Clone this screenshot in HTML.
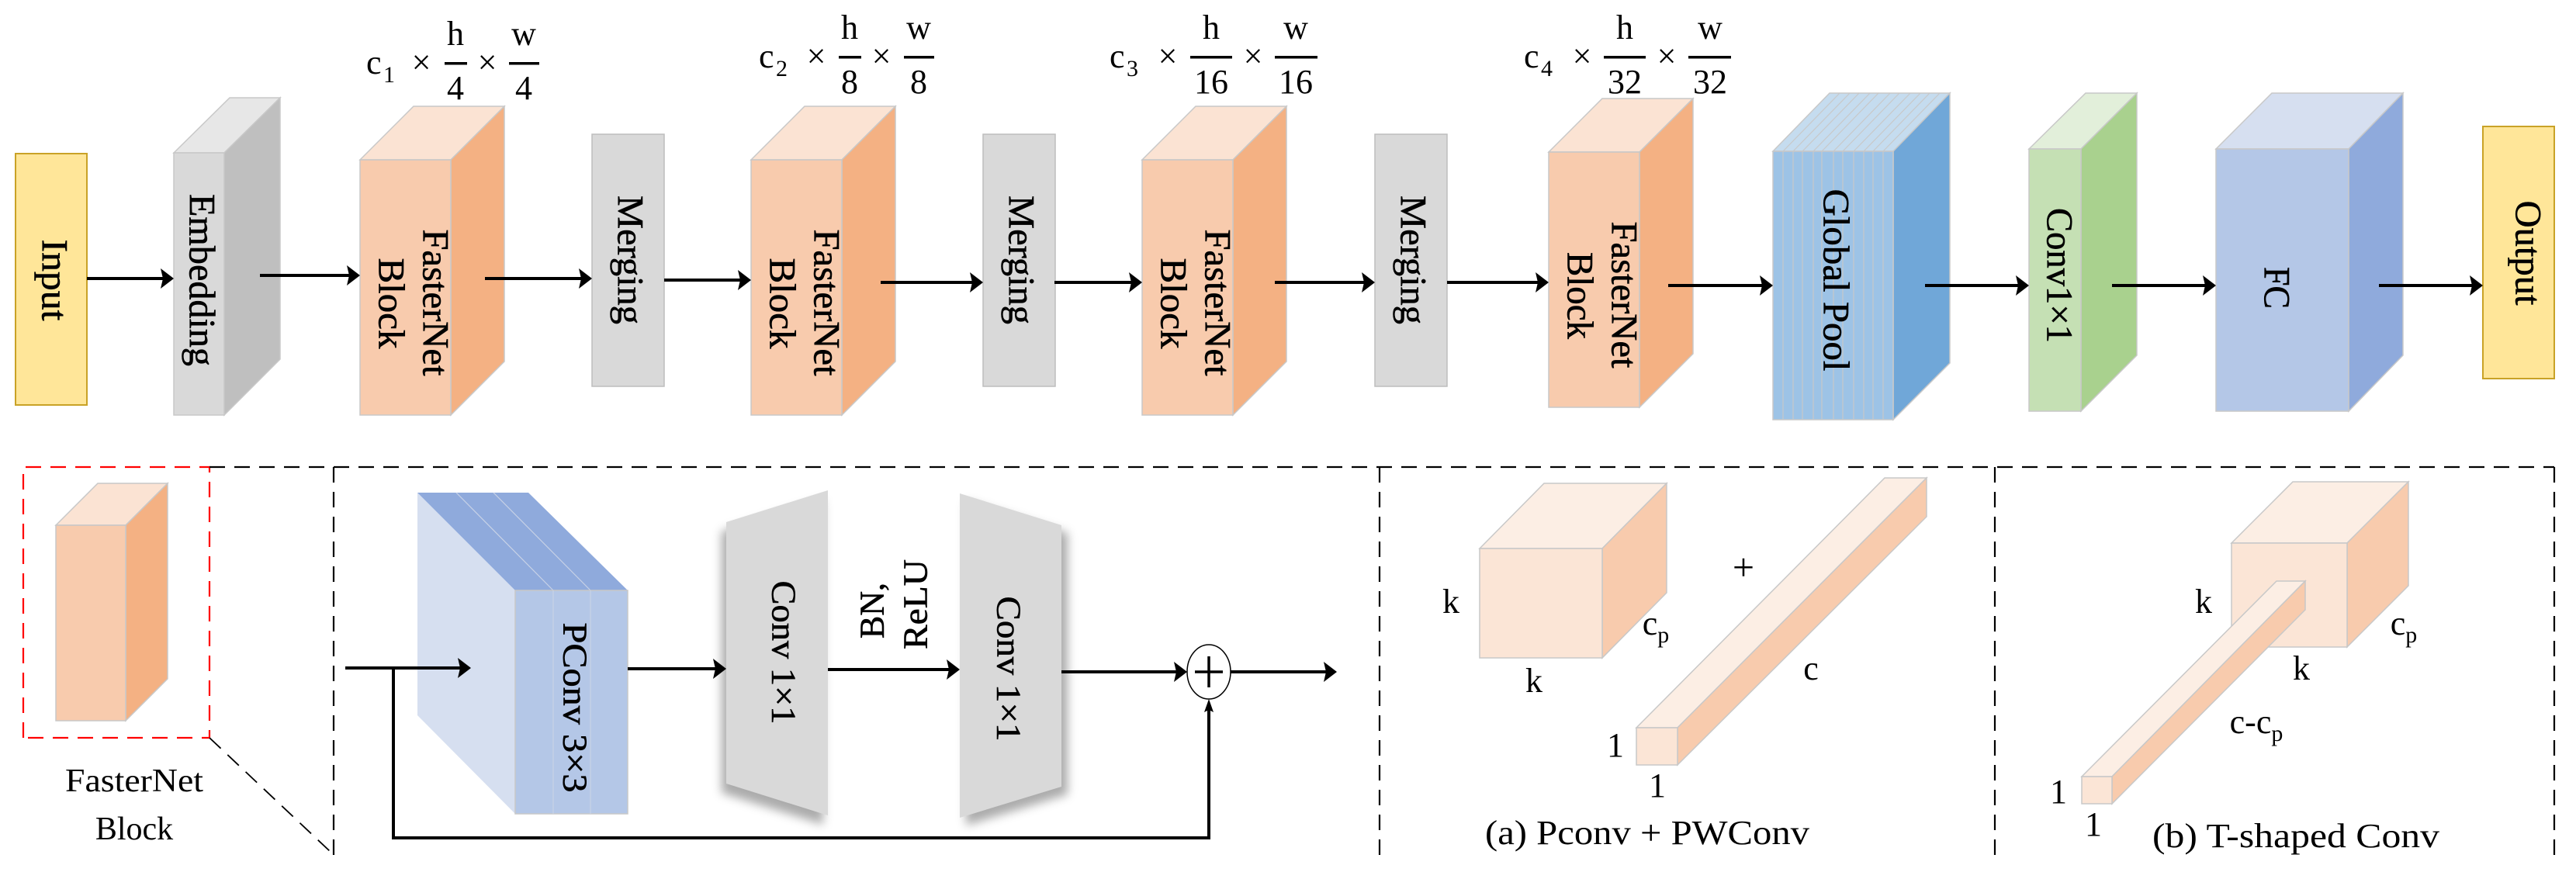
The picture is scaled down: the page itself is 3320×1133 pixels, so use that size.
<!DOCTYPE html>
<html><head><meta charset="utf-8"><style>
html,body{margin:0;padding:0;background:#fff;}
svg{display:block;}
svg text{font-family:"Liberation Serif","DejaVu Serif","Times New Roman",serif !important;fill:#000;}
</style></head><body>
<svg width="3320" height="1133" viewBox="0 0 3320 1133" xmlns="http://www.w3.org/2000/svg" font-family="Liberation Serif, DejaVu Serif, serif" style="font-family:'Liberation Serif','DejaVu Serif',serif">
<defs>
<filter id="sh" x="-30%" y="-10%" width="160%" height="130%"><feGaussianBlur stdDeviation="6"/></filter>
</defs>
<style>
.ar{stroke:#000;stroke-width:4;fill:none;}
.hd{fill:#000;}
.bx{stroke:#c8c8c8;stroke-width:1.5;}
.rt{font-size:48px;stroke:#000;stroke-width:0.6;}
.bt{stroke:#000;stroke-width:0.6;}
</style>

<rect x="20" y="198" width="92" height="324" fill="#FFE699" stroke="#C9A227" stroke-width="2"/>
<text class="rt" transform="translate(70,361) rotate(90)" text-anchor="middle" dominant-baseline="central" textLength="105" lengthAdjust="spacingAndGlyphs">Input</text>

<polygon class="bx" fill="#E7E7E7" points="224,197 296,126 361,126 289,197"/>
<polygon class="bx" fill="#BFBFBF" points="289,197 361,126 361,463 289,535"/>
<rect class="bx" fill="#D9D9D9" x="224" y="197" width="65" height="338"/>
<text class="rt" transform="translate(260,361) rotate(90)" text-anchor="middle" dominant-baseline="central" textLength="222" lengthAdjust="spacingAndGlyphs">Embedding</text>

<g id="fn1">
<polygon class="bx" fill="#FBE3D3" points="464,206 533,137 650,137 581,206"/>
<polygon class="bx" fill="#F4B183" points="581,206 650,137 650,466 581,535"/>
<rect class="bx" fill="#F8CBAD" x="464" y="206" width="117" height="329"/>
<text class="rt" transform="translate(561,390) rotate(90)" text-anchor="middle" dominant-baseline="central" textLength="189" lengthAdjust="spacingAndGlyphs">FasterNet</text>
<text class="rt" transform="translate(504,391) rotate(90)" text-anchor="middle" dominant-baseline="central" textLength="117" lengthAdjust="spacingAndGlyphs">Block</text>
</g>
<use href="#fn1" transform="translate(504,0)"/>
<use href="#fn1" transform="translate(1008,0)"/>
<g transform="translate(1532,-10)">
<polygon class="bx" fill="#FBE3D3" points="464,206 533,137 650,137 581,206"/>
<polygon class="bx" fill="#F4B183" points="581,206 650,137 650,466 581,535"/>
<rect class="bx" fill="#F8CBAD" x="464" y="206" width="117" height="329"/>
<text class="rt" transform="translate(561,390) rotate(90)" text-anchor="middle" dominant-baseline="central" textLength="189" lengthAdjust="spacingAndGlyphs">FasterNet</text>
<text class="rt" transform="translate(504,391) rotate(90)" text-anchor="middle" dominant-baseline="central" textLength="112" lengthAdjust="spacingAndGlyphs">Block</text>
</g>

<g id="mg">
<rect fill="#D9D9D9" stroke="#bdbdbd" stroke-width="1.5" x="763" y="173" width="93" height="325"/>
<text class="rt" transform="translate(812,335) rotate(90)" text-anchor="middle" dominant-baseline="central" textLength="166" lengthAdjust="spacingAndGlyphs">Merging</text>
</g>
<use href="#mg" transform="translate(504,0)"/>
<use href="#mg" transform="translate(1009,0)"/>

<polygon class="bx" fill="#C5DCEF" points="2285,195 2358,120 2513,120 2440,195"/>
<polygon class="bx" fill="#70A7D8" points="2440,195 2513,120 2513,468 2440,541"/>
<rect class="bx" fill="#9DC3E6" x="2285" y="195" width="155" height="346"/>
<g stroke="#c8c8c8" stroke-width="1.2">
<line x1="2298" y1="195" x2="2298" y2="541"/><line x1="2311" y1="195" x2="2311" y2="541"/><line x1="2323" y1="195" x2="2323" y2="541"/><line x1="2337" y1="195" x2="2337" y2="541"/><line x1="2348" y1="195" x2="2348" y2="541"/><line x1="2363" y1="195" x2="2363" y2="541"/><line x1="2375" y1="195" x2="2375" y2="541"/><line x1="2389" y1="195" x2="2389" y2="541"/><line x1="2402" y1="195" x2="2402" y2="541"/><line x1="2414" y1="195" x2="2414" y2="541"/><line x1="2427" y1="195" x2="2427" y2="541"/>
<line x1="2298" y1="195" x2="2371" y2="120"/><line x1="2311" y1="195" x2="2384" y2="120"/><line x1="2323" y1="195" x2="2396" y2="120"/><line x1="2337" y1="195" x2="2410" y2="120"/><line x1="2348" y1="195" x2="2421" y2="120"/><line x1="2363" y1="195" x2="2436" y2="120"/><line x1="2375" y1="195" x2="2448" y2="120"/><line x1="2389" y1="195" x2="2462" y2="120"/><line x1="2402" y1="195" x2="2475" y2="120"/><line x1="2414" y1="195" x2="2487" y2="120"/><line x1="2427" y1="195" x2="2500" y2="120"/>
</g>
<text class="rt" transform="translate(2366,361) rotate(90)" text-anchor="middle" dominant-baseline="central" textLength="235" lengthAdjust="spacingAndGlyphs">Global Pool</text>

<polygon class="bx" fill="#E2EFDA" points="2615,192 2688,120 2754,120 2682,192"/>
<polygon class="bx" fill="#A9D18E" points="2682,192 2754,120 2754,458 2682,530"/>
<rect class="bx" fill="#C5E0B4" x="2615" y="192" width="67" height="338"/>
<text class="rt" transform="translate(2654,355) rotate(90)" text-anchor="middle" dominant-baseline="central" textLength="174" lengthAdjust="spacingAndGlyphs">Conv1×1</text>

<polygon class="bx" fill="#D6DFF0" points="2856,192 2928,120 3097,120 3027,192"/>
<polygon class="bx" fill="#8FAADC" points="3027,192 3097,120 3097,458 3027,530"/>
<rect class="bx" fill="#B4C7E7" x="2856" y="192" width="171" height="338"/>
<text class="rt" transform="translate(2934,371) rotate(90)" text-anchor="middle" dominant-baseline="central" textLength="54" lengthAdjust="spacingAndGlyphs">FC</text>

<rect x="3200" y="163" width="92" height="325" fill="#FFE699" stroke="#C9A227" stroke-width="2"/>
<text class="rt" transform="translate(3258,326) rotate(90)" text-anchor="middle" dominant-baseline="central" textLength="135" lengthAdjust="spacingAndGlyphs">Output</text>

<g class="ar">
<line x1="112" y1="359" x2="212" y2="359"/>
<line x1="335" y1="355" x2="452" y2="355"/>
<line x1="625" y1="359" x2="751" y2="359"/>
<line x1="856" y1="361" x2="956" y2="361"/>
<line x1="1135" y1="364" x2="1255" y2="364"/>
<line x1="1359" y1="364" x2="1460" y2="364"/>
<line x1="1643" y1="364" x2="1760" y2="364"/>
<line x1="1865" y1="364" x2="1984" y2="364"/>
<line x1="2150" y1="368" x2="2273" y2="368"/>
<line x1="2481" y1="368" x2="2603" y2="368"/>
<line x1="2722" y1="368" x2="2844" y2="368"/>
<line x1="3066" y1="368" x2="3188" y2="368"/>
</g>
<g class="hd">
<polygon points="224,359 207,346 210,359 207,372"/>
<polygon points="464,355 447,342 450,355 447,368"/>
<polygon points="763,359 746,346 749,359 746,372"/>
<polygon points="968,361 951,348 954,361 951,374"/>
<polygon points="1267,364 1250,351 1253,364 1250,377"/>
<polygon points="1472,364 1455,351 1458,364 1455,377"/>
<polygon points="1772,364 1755,351 1758,364 1755,377"/>
<polygon points="1996,364 1979,351 1982,364 1979,377"/>
<polygon points="2285,368 2268,355 2271,368 2268,381"/>
<polygon points="2615,368 2598,355 2601,368 2598,381"/>
<polygon points="2856,368 2839,355 2842,368 2839,381"/>
<polygon points="3200,368 3183,355 3186,368 3183,381"/>
</g>

<g font-size="44">
<text x="472" y="95">c</text><text x="494" y="106" font-size="30">1</text>
<text x="543" y="95" text-anchor="middle">×</text>
<text x="587" y="58" text-anchor="middle">h</text><rect x="573" y="80" width="29" height="3.5"/><text x="587" y="128" text-anchor="middle">4</text>
<text x="628" y="95" text-anchor="middle">×</text>
<text x="675" y="58" text-anchor="middle">w</text><rect x="656" y="80" width="39" height="3.5"/><text x="675" y="128" text-anchor="middle">4</text>

<text x="978" y="87">c</text><text x="1000" y="98" font-size="30">2</text>
<text x="1052" y="87" text-anchor="middle">×</text>
<text x="1095" y="50" text-anchor="middle">h</text><rect x="1081" y="72" width="29" height="3.5"/><text x="1095" y="120" text-anchor="middle">8</text>
<text x="1136" y="87" text-anchor="middle">×</text>
<text x="1184" y="50" text-anchor="middle">w</text><rect x="1165" y="72" width="39" height="3.5"/><text x="1184" y="120" text-anchor="middle">8</text>

<text x="1430" y="87">c</text><text x="1452" y="98" font-size="30">3</text>
<text x="1505" y="87" text-anchor="middle">×</text>
<text x="1561" y="50" text-anchor="middle">h</text><rect x="1534" y="72" width="54" height="3.5"/><text x="1561" y="120" text-anchor="middle">16</text>
<text x="1615" y="87" text-anchor="middle">×</text>
<text x="1670" y="50" text-anchor="middle">w</text><rect x="1643" y="72" width="55" height="3.5"/><text x="1670" y="120" text-anchor="middle">16</text>

<text x="1964" y="87">c</text><text x="1986" y="98" font-size="30">4</text>
<text x="2039" y="87" text-anchor="middle">×</text>
<text x="2094" y="50" text-anchor="middle">h</text><rect x="2067" y="72" width="54" height="3.5"/><text x="2094" y="120" text-anchor="middle">32</text>
<text x="2148" y="87" text-anchor="middle">×</text>
<text x="2204" y="50" text-anchor="middle">w</text><rect x="2176" y="72" width="55" height="3.5"/><text x="2204" y="120" text-anchor="middle">32</text>
</g>

<g fill="none" stroke-width="2.2" stroke-dasharray="20,12">
<polyline stroke="#FF0000" points="30,951 30,602 270,602 270,951 30,951"/>
<line stroke="#000" x1="270" y1="602" x2="3292" y2="602"/>
<line stroke="#000" x1="430" y1="602" x2="430" y2="1110"/>
<line stroke="#000" x1="1778" y1="602" x2="1778" y2="1110"/>
<line stroke="#000" x1="2571" y1="602" x2="2571" y2="1110"/>
<line stroke="#000" x1="3292" y1="602" x2="3292" y2="1110"/>
<line stroke="#000" stroke-width="1.8" x1="270" y1="951" x2="426" y2="1098"/>
</g>

<polygon class="bx" fill="#FBE3D3" points="72,677 126,623 216,623 162,677"/>
<polygon class="bx" fill="#F4B183" points="162,677 216,623 216,875 162,929"/>
<rect class="bx" fill="#F8CBAD" x="72" y="677" width="90" height="252"/>
<text x="173" y="1020" font-size="42" text-anchor="middle" textLength="178" lengthAdjust="spacingAndGlyphs">FasterNet</text>
<text x="173" y="1082" font-size="42" text-anchor="middle">Block</text>

<polygon fill="#D6DFF0" points="538,635 664,761 664,1049 538,922"/>
<polygon fill="#8FAADC" points="538,635 681,635 809,761 664,761"/>
<g stroke="#c8d2e6" stroke-width="1.2"><line x1="588" y1="635" x2="713" y2="761"/><line x1="636" y1="635" x2="761" y2="761"/></g>
<rect class="bx" fill="#B4C7E7" x="664" y="761" width="145" height="288"/>
<g stroke="#c8d2e6" stroke-width="1.2"><line x1="713" y1="761" x2="713" y2="1049"/><line x1="761" y1="761" x2="761" y2="1049"/></g>
<text class="bt" font-size="44" transform="translate(741,912) rotate(90)" text-anchor="middle" dominant-baseline="central" textLength="219" lengthAdjust="spacingAndGlyphs">PConv 3×3</text>

<polygon fill="#888" opacity="0.7" filter="url(#sh)" points="930,685 1061,644 1061,1063 930,1022"/>
<polygon fill="#D9D9D9" points="936,673 1067,632 1067,1051 936,1010"/>
<text class="bt" font-size="44" transform="translate(1010,841) rotate(90)" text-anchor="middle" dominant-baseline="central" textLength="185" lengthAdjust="spacingAndGlyphs">Conv 1×1</text>
<polygon fill="#888" opacity="0.7" filter="url(#sh)" points="1245,646 1376,687 1376,1024 1245,1064"/>
<polygon fill="#D9D9D9" points="1237,636 1368,677 1368,1014 1237,1054"/>
<text class="bt" font-size="44" transform="translate(1300,862) rotate(90)" text-anchor="middle" dominant-baseline="central" textLength="187" lengthAdjust="spacingAndGlyphs">Conv 1×1</text>

<text class="bt" font-size="44" transform="translate(1124,787) rotate(-90)" text-anchor="middle" dominant-baseline="central">BN,</text>
<text class="bt" font-size="44" transform="translate(1180,779) rotate(-90)" text-anchor="middle" dominant-baseline="central" textLength="116" lengthAdjust="spacingAndGlyphs">ReLU</text>

<ellipse cx="1558" cy="866" rx="28" ry="35" fill="#fff" stroke="#000" stroke-width="1.5"/>
<g stroke="#000" stroke-width="3.5"><line x1="1540" y1="866" x2="1576" y2="866"/><line x1="1558" y1="846" x2="1558" y2="886"/></g>

<g class="ar">
<line x1="445" y1="861" x2="595" y2="861"/>
<line x1="809" y1="862" x2="924" y2="862"/>
<line x1="1067" y1="863" x2="1225" y2="863"/>
<line x1="1368" y1="866" x2="1518" y2="866"/>
<line x1="1586" y1="866" x2="1711" y2="866"/>
<polyline points="507,861 507,1080 1558,1080 1558,913"/>
</g>
<g class="hd">
<polygon points="607,861 590,848 593,861 590,874"/>
<polygon points="936,862 919,849 922,862 919,875"/>
<polygon points="1237,863 1220,850 1223,863 1220,876"/>
<polygon points="1530,866 1513,853 1516,866 1513,879"/>
<polygon points="1723,866 1706,853 1709,866 1706,879"/>
<polygon points="1558,901 1552,918 1558,915 1564,918"/>
</g>

<polygon class="bx" fill="#FCEEE4" points="1907,707 1990,623 2148,623 2065,707"/>
<polygon class="bx" fill="#F8CBAD" points="2065,707 2148,623 2148,764 2065,848"/>
<rect class="bx" fill="#FBE5D6" x="1907" y="707" width="158" height="141"/>
<polygon class="bx" fill="#FCEEE4" points="2109,938 2429,616 2483,616 2162,938"/>
<polygon class="bx" fill="#F8CBAD" points="2162,938 2483,616 2483,666 2162,986"/>
<rect class="bx" fill="#FBE5D6" x="2109" y="938" width="53" height="48"/>
<g font-size="44" text-anchor="middle">
<text x="1870" y="790">k</text>
<text x="2134" y="818">c<tspan font-size="30" dy="10">p</tspan></text>
<text x="1977" y="892">k</text>
<text x="2247" y="748" font-size="50">+</text>
<text x="2334" y="876">c</text>
<text x="2082" y="975">1</text>
<text x="2136" y="1027">1</text>
<text x="2123" y="1088" textLength="418" lengthAdjust="spacingAndGlyphs">(a) Pconv + PWConv</text>
</g>

<polygon class="bx" fill="#FCEEE4" points="2876,700 2955,621 3104,621 3025,700"/>
<polygon class="bx" fill="#F8CBAD" points="3025,700 3104,621 3104,755 3025,834"/>
<rect class="bx" fill="#FBE5D6" x="2876" y="700" width="149" height="134"/>
<polygon class="bx" fill="#FCEEE4" points="2683,1001 2934,749 2971,749 2722,1001"/>
<polygon class="bx" fill="#F8CBAD" points="2722,1001 2971,749 2971,786 2722,1036"/>
<rect class="bx" fill="#FBE5D6" x="2683" y="1001" width="39" height="35"/>
<g font-size="44" text-anchor="middle">
<text x="2840" y="790">k</text>
<text x="3098" y="818">c<tspan font-size="30" dy="10">p</tspan></text>
<text x="2966" y="876">k</text>
<text x="2908" y="945">c-c<tspan font-size="30" dy="10">p</tspan></text>
<text x="2653" y="1035">1</text>
<text x="2698" y="1077">1</text>
<text x="2959" y="1092" textLength="370" lengthAdjust="spacingAndGlyphs">(b) T-shaped Conv</text>
</g>
</svg>
</body></html>
